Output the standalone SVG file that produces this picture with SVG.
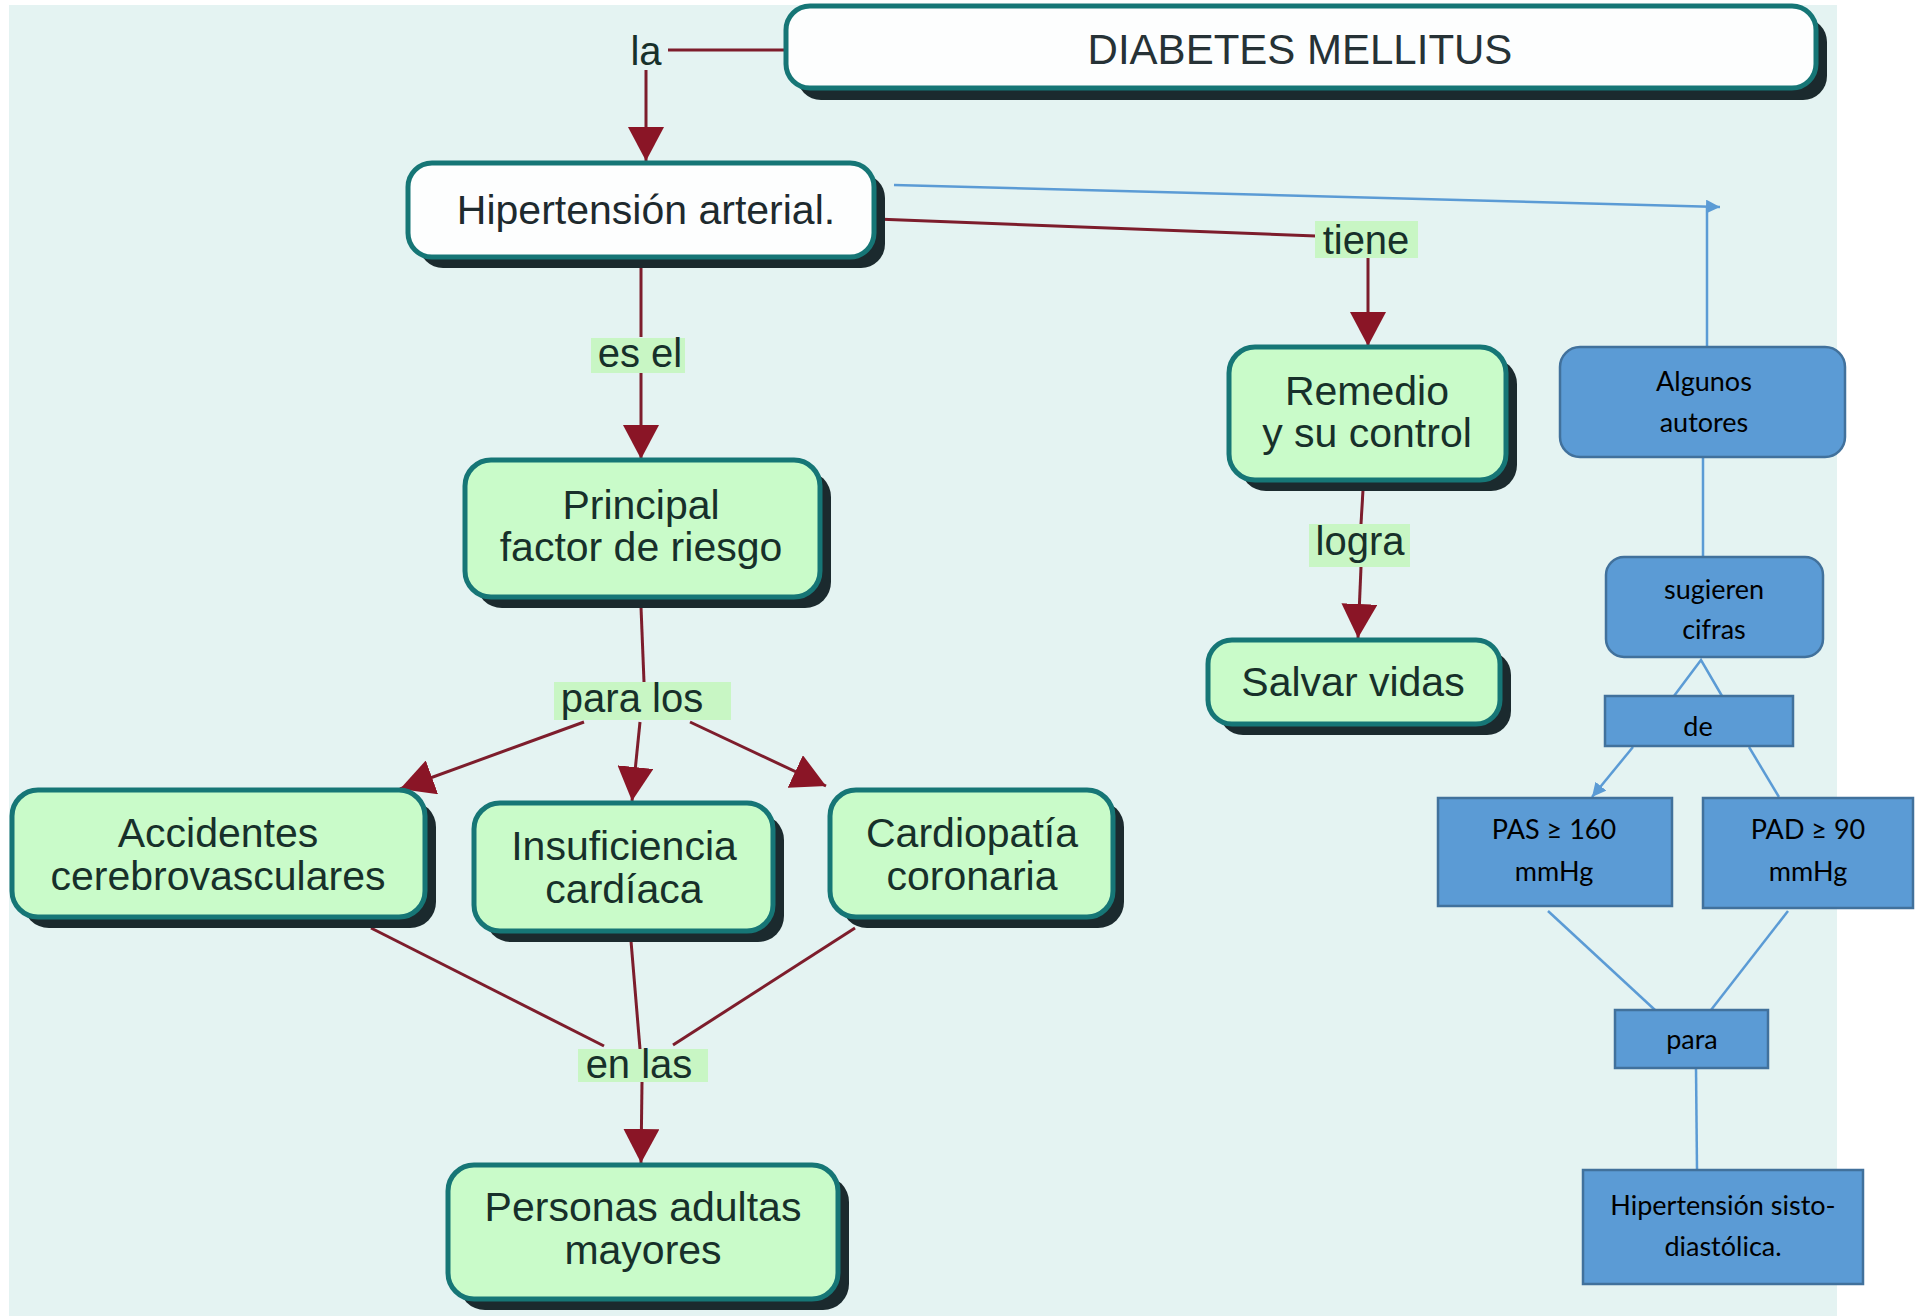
<svg xmlns="http://www.w3.org/2000/svg" width="1921" height="1316" viewBox="0 0 1921 1316">
<defs>
<style>
.bg{fill:#e4f3f2}
.shadow{fill:#1b2a2e}
.gnode{fill:#c9fbc9;stroke:#167676;stroke-width:5}
.wnode{fill:#fdfefe;stroke:#167676;stroke-width:5}
.ntext{font-family:"Liberation Sans",Arial,sans-serif;font-size:41px;fill:#17302a;text-anchor:middle}
.ltext{font-family:"Liberation Sans",Arial,sans-serif;font-size:40px;fill:#17302a;text-anchor:middle}
.lbg{fill:#c8f6c4}
.conn{stroke:#7d1d2c;stroke-width:3;fill:none}
.bconn{stroke:#5b9bd5;stroke-width:2.5;fill:none}
.bnode{fill:#5b9bd5;stroke:#41719c;stroke-width:2.5}
.btext{font-family:Lato,"Noto Sans",sans-serif;font-size:27px;fill:#000;text-anchor:middle}
</style>
<marker id="ah" viewBox="0 0 34 36" refX="34" refY="18" markerWidth="34" markerHeight="36" markerUnits="userSpaceOnUse" orient="auto">
<path d="M0,0 L34,18 L0,36 Z" fill="#8a1526"/>
</marker>
<marker id="bh" viewBox="0 0 14 14" refX="14" refY="7" markerWidth="14" markerHeight="14" markerUnits="userSpaceOnUse" orient="auto">
<path d="M0,0 L14,7 L0,14 Z" fill="#5b9bd5"/>
</marker>
</defs>
<rect x="0" y="0" width="1921" height="1316" fill="#ffffff"/>
<rect class="bg" x="9" y="5" width="1828" height="1311"/>

<g id="connectors">
<line class="conn" x1="786" y1="50" x2="668" y2="50"/>
<line class="conn" x1="646" y1="70" x2="646" y2="161" marker-end="url(#ah)"/>
<line class="conn" x1="876" y1="219" x2="1316" y2="236"/>
<line class="conn" x1="1368" y1="258" x2="1368" y2="346" marker-end="url(#ah)"/>
<line class="conn" x1="641" y1="268" x2="641" y2="337"/>
<line class="conn" x1="641" y1="373" x2="641" y2="459" marker-end="url(#ah)"/>
<line class="conn" x1="641" y1="607" x2="644" y2="682"/>
<line class="conn" x1="584" y1="722" x2="400" y2="789" marker-end="url(#ah)"/>
<line class="conn" x1="640" y1="722" x2="632" y2="801" marker-end="url(#ah)"/>
<line class="conn" x1="690" y1="722" x2="826" y2="786" marker-end="url(#ah)"/>
<line class="conn" x1="371" y1="928" x2="604" y2="1046"/>
<line class="conn" x1="631" y1="941" x2="640" y2="1049"/>
<line class="conn" x1="855" y1="928" x2="673" y2="1045"/>
<line class="conn" x1="642" y1="1082" x2="641" y2="1163" marker-end="url(#ah)"/>
<line class="conn" x1="1363" y1="490" x2="1361" y2="524"/>
<line class="conn" x1="1361" y1="567" x2="1358" y2="638" marker-end="url(#ah)"/>
<line class="bconn" x1="894" y1="185" x2="1720" y2="207" marker-end="url(#bh)"/>
<line class="bconn" x1="1707" y1="207" x2="1707" y2="347"/>
<line class="bconn" x1="1703" y1="458" x2="1703" y2="557"/>
<polyline class="bconn" points="1674,696 1701,660 1722,696"/>
<line class="bconn" x1="1633" y1="747" x2="1592" y2="797" marker-end="url(#bh)"/>
<line class="bconn" x1="1749" y1="747" x2="1779" y2="797"/>
<line class="bconn" x1="1548" y1="911" x2="1655" y2="1010"/>
<line class="bconn" x1="1788" y1="911" x2="1711" y2="1010"/>
<line class="bconn" x1="1696" y1="1068" x2="1697" y2="1170"/>
</g>

<g id="labels">
<text class="ltext" x="646" y="65">la</text>
<rect class="lbg" x="1315" y="221" width="103" height="37"/>
<text class="ltext" x="1366" y="254">tiene</text>
<rect class="lbg" x="591" y="338" width="94" height="35"/>
<text class="ltext" x="640" y="367">es el</text>
<rect class="lbg" x="554" y="682" width="177" height="38"/>
<text class="ltext" x="632" y="712">para los</text>
<rect class="lbg" x="578" y="1049" width="130" height="33"/>
<text class="ltext" x="639" y="1078">en las</text>
<rect class="lbg" x="1309" y="524" width="101" height="43"/>
<text class="ltext" x="1360" y="555">logra</text>
</g>

<g id="n-diabetes">
<rect class="shadow" x="797" y="18" width="1030" height="82" rx="24"/>
<rect class="wnode" x="786" y="6" width="1030" height="82" rx="24"/>
<text class="ntext" x="1300" y="64" style="font-size:42px;fill:#263236">DIABETES MELLITUS</text>
</g>

<g id="n-hipertension">
<rect class="shadow" x="419" y="174" width="466" height="94" rx="24"/>
<rect class="wnode" x="408" y="163" width="466" height="94" rx="24"/>
<text class="ntext" x="646" y="224" style="fill:#1e2a2e">Hipertensión arterial.</text>
</g>

<g id="n-principal">
<rect class="shadow" x="476" y="471" width="355" height="137" rx="26"/>
<rect class="gnode" x="465" y="460" width="355" height="137" rx="26"/>
<text class="ntext" x="641" y="519">Principal</text>
<text class="ntext" x="641" y="561">factor de riesgo</text>
</g>

<g id="n-remedio">
<rect class="shadow" x="1240" y="358" width="277" height="133" rx="26"/>
<rect class="gnode" x="1229" y="347" width="277" height="133" rx="26"/>
<text class="ntext" x="1367" y="405">Remedio</text>
<text class="ntext" x="1367" y="447">y su control</text>
</g>

<g id="n-salvar">
<rect class="shadow" x="1219" y="651" width="292" height="84" rx="24"/>
<rect class="gnode" x="1208" y="640" width="292" height="84" rx="24"/>
<text class="ntext" x="1353" y="696">Salvar vidas</text>
</g>

<g id="n-accidentes">
<rect class="shadow" x="23" y="801" width="413" height="127" rx="26"/>
<rect class="gnode" x="12" y="790" width="413" height="127" rx="26"/>
<text class="ntext" x="218" y="847">Accidentes</text>
<text class="ntext" x="218" y="890">cerebrovasculares</text>
</g>

<g id="n-insuficiencia">
<rect class="shadow" x="485" y="814" width="299" height="128" rx="26"/>
<rect class="gnode" x="474" y="803" width="299" height="128" rx="26"/>
<text class="ntext" x="624" y="860">Insuficiencia</text>
<text class="ntext" x="624" y="903">cardíaca</text>
</g>

<g id="n-cardiopatia">
<rect class="shadow" x="841" y="801" width="283" height="127" rx="26"/>
<rect class="gnode" x="830" y="790" width="283" height="127" rx="26"/>
<text class="ntext" x="972" y="847">Cardiopatía</text>
<text class="ntext" x="972" y="890">coronaria</text>
</g>

<g id="n-personas">
<rect class="shadow" x="459" y="1176" width="390" height="134" rx="26"/>
<rect class="gnode" x="448" y="1165" width="390" height="134" rx="26"/>
<text class="ntext" x="643" y="1221">Personas adultas</text>
<text class="ntext" x="643" y="1264">mayores</text>
</g>

<g id="n-algunos">
<rect class="bnode" x="1560" y="347" width="285" height="110" rx="20"/>
<text class="btext" x="1704" y="391">Algunos</text>
<text class="btext" x="1704" y="432">autores</text>
</g>

<g id="n-sugieren">
<rect class="bnode" x="1606" y="557" width="217" height="100" rx="18"/>
<text class="btext" x="1714" y="599">sugieren</text>
<text class="btext" x="1714" y="639">cifras</text>
</g>

<g id="n-de">
<rect class="bnode" x="1605" y="696" width="188" height="50"/>
<text class="btext" x="1698" y="736">de</text>
</g>

<g id="n-pas">
<rect class="bnode" x="1438" y="798" width="234" height="108"/>
<text class="btext" x="1554" y="839">PAS ≥ 160</text>
<text class="btext" x="1554" y="881">mmHg</text>
</g>

<g id="n-pad">
<rect class="bnode" x="1703" y="798" width="210" height="110"/>
<text class="btext" x="1808" y="839">PAD ≥ 90</text>
<text class="btext" x="1808" y="881">mmHg</text>
</g>

<g id="n-para">
<rect class="bnode" x="1615" y="1010" width="153" height="58"/>
<text class="btext" x="1692" y="1049">para</text>
</g>

<g id="n-sisto">
<rect class="bnode" x="1583" y="1170" width="280" height="114"/>
<text class="btext" x="1723" y="1215">Hipertensión sisto-</text>
<text class="btext" x="1723" y="1256">diastólica.</text>
</g>
</svg>
